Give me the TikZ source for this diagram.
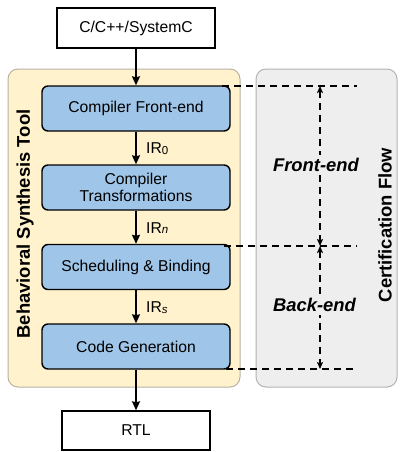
\documentclass[tikz,border=0pt]{standalone}
\usepackage{fontspec}
\setmainfont{Liberation Sans}
\usetikzlibrary{arrows.meta}
\definecolor{ybg}{HTML}{FFF2CC}
\definecolor{ybd}{HTML}{B8B2A2}
\definecolor{gbg}{HTML}{EEEEEE}
\definecolor{gbd}{HTML}{B3B3B3}
\definecolor{bfill}{HTML}{9FC5E8}
\tikzset{
  iobox/.style={draw=black, fill=white, line width=1.4pt, minimum height=40pt, inner sep=0pt},
  stepbox/.style={draw=black, fill=bfill, line width=1.4pt, rounded corners=6pt, minimum width=188pt, minimum height=45pt, align=center, inner sep=0pt},
  flow/.style={line width=1.4pt, -{Stealth[length=9pt,width=8pt,inset=1pt]}},
  irlabel/.style={anchor=west, inner sep=0pt},
  dline/.style={line width=1.4pt, dash pattern=on 7pt off 5pt},
  darrow/.style={line width=1.4pt, dash pattern=on 7pt off 5pt, {Stealth[length=7pt,width=6pt,inset=1.5pt]}-{Stealth[length=7pt,width=6pt,inset=1.5pt]}},
  phase/.style={fill=gbg, font=\fontsize{18.4}{20}\selectfont\bfseries\itshape, inner sep=3pt},
  sidetitle/.style={rotate=90, font=\fontsize{18.4}{20}\selectfont\bfseries}
}
\newcommand{\irsub}[1]{{\fontsize{11.5}{11.5}\selectfont\raisebox{-0.8pt}{#1}}}
\begin{document}
\begin{tikzpicture}[x=1pt,y=-1pt, font=\fontsize{15.7}{18}\selectfont]
\useasboundingbox (0,0) rectangle (399,452);
% containers
\draw[fill=ybg, draw=ybd, line width=1pt, rounded corners=10pt] (8,69) rectangle (240,387);
\draw[fill=gbg, draw=gbd, line width=1pt, rounded corners=10pt] (256,69) rectangle (397,387);
% nodes
\node[iobox, minimum width=158pt] (src) at (136,28) {C/C++/SystemC};
\node[stepbox] (fe) at (136,108.5) {Compiler Front-end};
\node[stepbox] (ct) at (136,187.5) {Compiler\\[-1pt]Transformations};
\node[stepbox] (sb) at (136,267) {Scheduling \& Binding};
\node[stepbox] (cg) at (136,346.5) {Code Generation};
\node[iobox, minimum width=148pt, minimum height=39pt] (rtl) at (136,430.5) {RTL};
% flow arrows
\draw[flow] (src) -- (fe);
\draw[flow] (fe) -- (ct);
\draw[flow] (ct) -- (sb);
\draw[flow] (sb) -- (cg);
\draw[flow] (cg) -- (rtl);
\node[irlabel] (ir0) at (146,149) {IR\irsub{0}};
\node[irlabel] (irn) at (146,228) {IR\irsub{\itshape n}};
\node[irlabel] (irs) at (146,308) {IR\irsub{\itshape s}};
% side titles
\node[sidetitle] (bst) at (25,224) {Behavioral Synthesis Tool};
\node[sidetitle] (cf) at (385,225) {Certification Flow};
% dashed markers
\coordinate (h1a) at (222,86);  \coordinate (h1b) at (357,86);
\coordinate (h2a) at (224,246); \coordinate (h2b) at (357,246);
\coordinate (h3a) at (226,369); \coordinate (h3b) at (357,369);
\coordinate (v1) at (320,86); \coordinate (v2) at (320,246); \coordinate (v3) at (320,369);
\draw[darrow] (v1) -- (v2);
\draw[darrow] (v2) -- (v3);
\node[phase] (fel) at (316,165) {Front-end};
\node[phase] (bel) at (314.5,305) {Back-end};
\draw[dline] (h1a) -- (h1b);
\draw[dline] (h2a) -- (h2b);
\draw[dline] (h3a) -- (h3b);
\end{tikzpicture}
\end{document}
